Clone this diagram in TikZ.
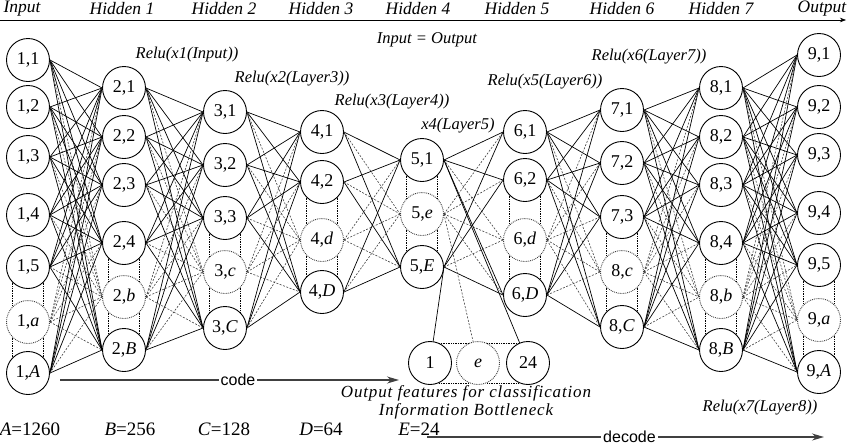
\documentclass[tikz,border=0pt]{standalone}
\usepackage{fontspec}
\setmainfont{Liberation Serif}
\setsansfont{Liberation Sans}
\usetikzlibrary{arrows.meta}

\begin{document}
\begin{tikzpicture}[
  x=1pt, y=-1pt,
  neuron/.style={draw, circle, minimum size=43pt, inner sep=0pt, line width=0.9pt,
    font=\fontsize{18}{20}\selectfont},
  ghost/.style={neuron, densely dotted, draw=black!75},
  link/.style={line width=0.7pt},
  dimlink/.style={line width=0.6pt, dash pattern=on 2pt off 1.5pt, black!75},
  gap/.style={line width=0.7pt, densely dotted},
  head/.style={font=\fontsize{17.5}{19}\selectfont\itshape},
  tag/.style={font=\fontsize{16.5}{18}\selectfont\itshape},
  note/.style={font=\fontsize{17}{18}\selectfont\itshape\addfontfeatures{LetterSpace=5}},
  size/.style={font=\fontsize{19}{21}\selectfont},
  flow/.style={-{Stealth[length=12pt,width=7pt]}, line width=1.4pt, black!75},
  >=Stealth
]
\useasboundingbox (0,0) rectangle (848,445);

% layer titles
\coordinate (topL) at (0,20);
\coordinate (topR) at (846,20);
\draw[->, line width=0.7pt] (topL) -- (topR);
\foreach \x/\t in {22/Input, 122/Hidden 1, 224/Hidden 2, 321/Hidden 3, 418/Hidden 4,
    517/Hidden 5, 622/Hidden 6, 721/Hidden 7, 822/Output}
  \node[head] (title-\x) at (\x,9) {\t};

% neurons
\foreach \n/\y/\t in {1/60/{1,1}, 2/107/{1,2}, 3/157/{1,3}, 4/215/{1,4}, 5/267/{1,5}, A/373/{1,\textit{A}}}
  \node[neuron] (l1-\n) at (28,\y) {\t};
\node[ghost] (l1-a) at (28,322) {1,\textit{a}};
\foreach \n/\y/\t in {1/88/{2,1}, 2/137/{2,2}, 3/185/{2,3}, 4/243/{2,4}, B/350/{2,\textit{B}}}
  \node[neuron] (l2-\n) at (124,\y) {\t};
\node[ghost] (l2-b) at (124,297) {2,\textit{b}};
\foreach \n/\y/\t in {1/112/{3,1}, 2/165/{3,2}, 3/218/{3,3}, C/328/{3,\textit{C}}}
  \node[neuron] (l3-\n) at (225,\y) {\t};
\node[ghost] (l3-c) at (225,272) {3,\textit{c}};
\foreach \n/\y/\t in {1/132/{4,1}, 2/182/{4,2}, D/292/{4,\textit{D}}}
  \node[neuron] (l4-\n) at (322,\y) {\t};
\node[ghost] (l4-d) at (322,240) {4,\textit{d}};
\foreach \n/\y/\t in {1/160/{5,1}, E/267/{5,\textit{E}}}
  \node[neuron] (l5-\n) at (422,\y) {\t};
\node[ghost] (l5-e) at (422,214) {5,\textit{e}};
\foreach \n/\y/\t in {1/132/{6,1}, 2/180/{6,2}, D/295/{6,\textit{D}}}
  \node[neuron] (l6-\n) at (525,\y) {\t};
\node[ghost] (l6-d) at (525,240) {6,\textit{d}};
\foreach \n/\y/\t in {1/110/{7,1}, 2/163/{7,2}, 3/217/{7,3}, C/327/{8,\textit{C}}}
  \node[neuron] (l7-\n) at (622,\y) {\t};
\node[ghost] (l7-c) at (622,272) {8,\textit{c}};
\foreach \n/\y/\t in {1/88/{8,1}, 2/137/{8,2}, 3/185/{8,3}, 4/243/{8,4}, B/350/{8,\textit{B}}}
  \node[neuron] (l8-\n) at (721,\y) {\t};
\node[ghost] (l8-b) at (721,297) {8,\textit{b}};
\foreach \n/\y/\t in {1/55/{9,1}, 2/107/{9,2}, 3/155/{9,3}, 4/213/{9,4}, 5/265/{9,5}, A/372/{9,\textit{A}}}
  \node[neuron] (l9-\n) at (819,\y) {\t};
\node[ghost] (l9-a) at (819,320) {9,\textit{a}};

% bottleneck outputs
\node[neuron] (out-1) at (430,363) {1};
\node[ghost] (out-e) at (478,363) {\textit{e}};
\node[neuron] (out-24) at (528,363) {24};

% full connections between layers
\foreach \s/\ss/\sd/\t/\ts/\td in {
    1/{1,2,3,4,5,A}/a/2/{1,2,3,4,B}/b,
    2/{1,2,3,4,B}/b/3/{1,2,3,C}/c,
    3/{1,2,3,C}/c/4/{1,2,D}/d,
    4/{1,2,D}/d/5/{1,E}/e,
    5/{1,E}/e/6/{1,2,D}/d,
    6/{1,2,D}/d/7/{1,2,3,C}/c,
    7/{1,2,3,C}/c/8/{1,2,3,4,B}/b,
    8/{1,2,3,4,B}/b/9/{1,2,3,4,5,A}/a} {
  \foreach \p in \ss {
    \foreach \q in \ts
      \draw[link] (l\s-\p.east) -- (l\t-\q.west);
    \draw[dimlink] (l\s-\p.east) -- (l\t-\td.west);
  }
  \foreach \q in \ts
    \draw[dimlink] (l\s-\sd.east) -- (l\t-\q.west);
  \draw[dimlink] (l\s-\sd.east) -- (l\t-\td.west);
}
\draw[link] (l5-1.east) -- (out-24);
\draw[dimlink] (l5-e.east) -- (out-e);
\draw[link] (l5-E.east) -- (out-1);

% dotted gaps around the hidden units
\foreach \a/\b in {l1-5/l1-a, l1-a/l1-A, l2-4/l2-b, l2-b/l2-B, l3-3/l3-c, l3-c/l3-C,
    l4-2/l4-d, l4-d/l4-D, l5-1/l5-e, l5-e/l5-E, l6-2/l6-d, l6-d/l6-D,
    l7-3/l7-c, l7-c/l7-C, l8-4/l8-b, l8-b/l8-B, l9-5/l9-a, l9-a/l9-A} {
  \draw[gap] (\a.-46) -- (\b.46);
  \draw[gap] (\a.-134) -- (\b.134);
}
\foreach \a/\b in {out-1/out-e, out-e/out-24} {
  \draw[gap] (\a.65) -- (\b.115);
  \draw[gap] (\a.-65) -- (\b.-115);
}

% activations
\node[tag] (act1) at (187,55) {Relu(x1(Input))};
\node[tag] (act2) at (292,79) {Relu(x2(Layer3))};
\node[tag] (act3) at (392,102) {Relu(x3(Layer4))};
\node[tag] (act4) at (458,126) {x4(Layer5)};
\node[tag] (act5) at (545,82) {Relu(x5(Layer6))};
\node[tag] (act6) at (649,57) {Relu(x6(Layer7))};
\node[tag] (act7) at (760,408) {Relu(x7(Layer8))};
\node[tag] (same) at (427,40) {Input = Output};
\node[note] (feat) at (466,393) {Output features for classification};
\node[note] (neck) at (466,411) {Information Bottleneck};

% layer sizes
\foreach \x/\l/\v in {30/A/1260, 130/B/256, 224/C/128, 321/D/64, 419/E/24}
  \node[size] (size-\l) at (\x,429) {\textit{\l}=\v};

% code / decode
\coordinate (codeL) at (60,380);
\coordinate (codeR) at (399,380);
\draw[flow] (codeL) -- node[pos=0.525, fill=white, inner xsep=2pt, text=black, font=\sffamily\fontsize{16}{18}\selectfont] (code) {code} (codeR);
\coordinate (decL) at (427,437);
\coordinate (decR) at (824,437);
\draw[flow] (decL) -- node[pos=0.51, fill=white, inner xsep=2pt, text=black, font=\sffamily\fontsize{16}{18}\selectfont] (decode) {decode} (decR);
\end{tikzpicture}
\end{document}
